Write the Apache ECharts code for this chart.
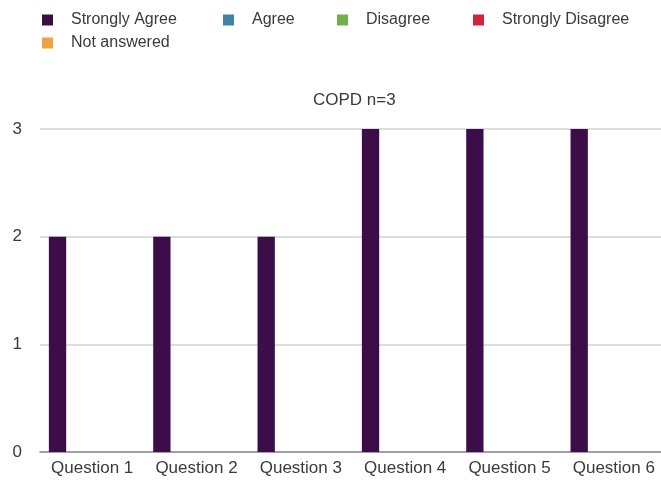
<!DOCTYPE html>
<html>
<head>
<meta charset="utf-8">
<script src="https://cdn.jsdelivr.net/npm/echarts@6/dist/echarts.min.js"></script>
<style>
  html, body { margin: 0; padding: 0; background: #ffffff; overflow: hidden; }
  #chart { width: 668px; height: 481px; }
</style>
</head>
<body>
<div id="chart"></div>
<script>
// Survey responses for COPD patients (n=3)
const categories = ['Question 1', 'Question 2', 'Question 3', 'Question 4', 'Question 5', 'Question 6'];
const stronglyAgree    = [2, 2, 2, 3, 3, 3];
const agree            = [0, 0, 0, 0, 0, 0];
const disagree         = [0, 0, 0, 0, 0, 0];
const stronglyDisagree = [0, 0, 0, 0, 0, 0];
const notAnswered      = [0, 0, 0, 0, 0, 0];
const yTicks = [0, 1, 2, 3];

const seriesNames = ['Strongly Agree', 'Agree', 'Disagree', 'Strongly Disagree', 'Not answered'];
const seriesData = [stronglyAgree, agree, disagree, stronglyDisagree, notAnswered];
const colors = ['#3c0d48', '#3f84a8', '#72b04c', '#d4213d', '#f0a143'];

const FONT = '"Liberation Sans", Arial, Helvetica, sans-serif';
const TEXT_COLOR = '#3a3a3a';

// One legend block per entry so each can sit at its own spot
const legendSpots = [
  { left: 37,  top: 7 },
  { left: 218, top: 7 },
  { left: 332, top: 7 },
  { left: 468, top: 7 },
  { left: 37,  top: 30 }
];
const legends = seriesNames.map((name, i) => ({
  data: [name],
  left: legendSpots[i].left,
  top: legendSpots[i].top,
  icon: 'rect',
  itemWidth: 11,
  itemHeight: 11,
  selectedMode: false,
  textStyle: {
    fontFamily: FONT,
    fontSize: 16,
    color: TEXT_COLOR,
    padding: [0, 0, 0, 13]
  }
}));

const chart = echarts.init(document.getElementById('chart'), null, { renderer: 'canvas' });
chart.setOption({
  animation: false,
  backgroundColor: '#ffffff',
  color: colors,
  title: {
    text: 'COPD n=3',
    left: 308,
    top: 87,
    textStyle: { fontFamily: FONT, fontSize: 17, fontWeight: 'normal', color: TEXT_COLOR }
  },
  legend: legends,
  grid: { left: 40, right: 2, top: 129, bottom: 29, containLabel: false },
  xAxis: {
    type: 'category',
    data: categories,
    axisTick: { show: false },
    axisLine: { show: true, lineStyle: { color: '#8a8a8a', width: 1.5 } },
    axisLabel: { fontFamily: FONT, fontSize: 17, color: TEXT_COLOR, margin: 8, interval: 0 },
    splitLine: { show: false }
  },
  yAxis: {
    type: 'value',
    min: yTicks[0],
    max: yTicks[yTicks.length - 1],
    interval: 1,
    axisLine: { show: false },
    axisTick: { show: false },
    axisLabel: { fontFamily: FONT, fontSize: 17, color: TEXT_COLOR, margin: 18 },
    splitLine: { lineStyle: { color: '#d2d2d2', width: 1.5 } }
  },
  series: seriesNames.map((name, i) => ({
    name: name,
    type: 'bar',
    data: seriesData[i],
    barGap: '0%',
    barCategoryGap: '17%',
    itemStyle: { color: colors[i] }
  }))
});
</script>
</body>
</html>
